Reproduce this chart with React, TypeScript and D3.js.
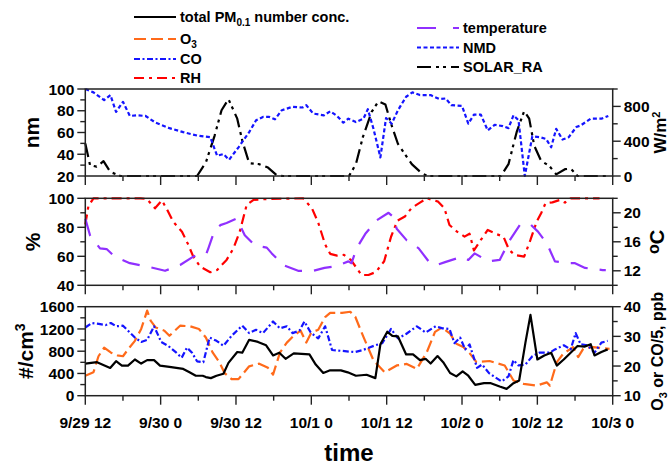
import React from "react";
import * as d3 from "d3";

// ---- data (hours since 9/29 12:00) ----
const xTickLabels = ["9/29 12", "9/30 0", "9/30 12", "10/1 0", "10/1 12", "10/2 0", "10/2 12", "10/3 0"];

const nmdT = [0,1.3,3,4,4.9,6,7.1,8.2,9.6,11.2,13.4,15.6,17.8,19.9,21,22,22.9,24.4,26.1,27.2,28.3,29.3,30.2,31.3,33,34.6,35.2,36.3,38,39,40.1,41.1,41.9,43.1,44.3,45,45.9,47,47.9,48.8,49.8,51.1,52.1,53.3,55,56.4,57.4,58.3,60,61,61.9,63,64.1,65.2,66.5,67.4,68.2,69,70,71.2,72.4,73.4,74.2,75,76,77,78.2,78.9,80.5,82.2,83.3];
const nmdV = [100,96.9,89.8,94.4,78.9,88.2,75.2,75.8,75.2,69,64,60.3,57.2,55.7,38.6,40.2,34.9,46.4,60.3,71.2,74.3,74.3,72.1,80.5,83.6,83,85.1,77.4,75.8,79.5,75.2,69,72.7,69.6,72.7,81.4,63.4,37.1,73.3,68.1,80.5,92.9,96.9,94.4,94.4,90.7,91.3,85.1,84.5,68.1,76.4,76.4,61.9,67.1,65.9,64,75.8,71.2,20,56.6,55.7,54.1,46.4,63.4,53.5,55.7,65,66.5,72.7,72.7,75.2];

const solarT = [0,0.75,1.8,2.9,4,5.6,17.8,19.2,20.6,21.7,22.8,24.2,25,26.1,27.7,29.1,30.5,31.5,42,43.1,44.2,45.6,46.7,47.8,48.7,49.8,50.9,52,53.6,54.5,66.2,67.4,68.7,69.9,70.7,71.5,72.6,73.9,75,76.4,77.3,78.4,83.3];
const solarV = [375,126,107,170,46,0,0,155,465,756,884,659,407,147,136,97,8,0,0,136,446,736,858,822,601,368,252,136,31,0,0,136,504,746,659,349,174,116,19,78,85,0,0];

const rhT = [0,0.5,1.3,8.8,9.8,11.1,12.2,13.2,14,15.4,16.4,17.2,18.3,19.9,21,22.5,23.6,24.6,25.7,26.8,28.9,34.7,36.1,37.1,38.2,39,40.1,41.2,42.3,44,45.1,46.3,47.6,48.7,49.7,50.9,52,53.3,54.4,56.2,57.2,58,59.2,60.4,61.2,61.9,63,64.1,65.6,66.6,67.5,68.4,69.9,70.9,71.9,72.6,73.3,74.4,75.6,76.4,77.3,81.9];
const rhV = [82,94.7,100,100,99.5,93.1,98.6,90.8,83.9,77,68,59.8,52.9,49,50.6,57.5,65.5,77,95.4,98.9,99.5,100,93.1,83.2,68.2,61.7,60.5,61,57.5,47.1,47.1,49.2,56.6,73.5,84.5,87.4,93.5,97,100,97.7,93.1,81.6,77,73.6,75.6,64,71.3,78.2,75.1,73.6,64.4,60.9,59.8,71.3,84,89.7,96.6,97.2,98.9,97,100,100];

const tempT = [0,0.75,2.34,3.4,4.7,7.1,9.8,12.7,15.1,17.2,18.3,19.3,19.6,20.4,21.5,22.5,24.1,25.4,27,28.9,29.7,31.5,33.9,36.3,38.1,39.8,41.9,42.4,43.2,44.6,46.4,48.3,49.1,49.6,51.2,53.1,54.9,56,57.3,60,61,62,64.2,66,67.6,69.2,70.8,72.1,73.5,74.8,77.2,78,79.6,82.4,82.9];
const tempV = [19.2,16.9,15.1,15.0,13.95,13.05,12.6,12.0,12.8,13.95,14.4,14.4,15.1,17.1,18.3,18.6,19.2,16.9,15.5,15.2,14.4,12.8,12.0,12.0,12.4,12.6,13.3,13.05,15.1,17.1,18.95,20.0,19.4,17.8,16.2,15.1,13.05,12.8,13.2,13.95,13.5,14.4,13.3,13.5,16.2,18.3,18.5,17.4,15.8,13.3,13.05,13.05,12.4,12.1,12.1];

const pmT = [0,1.87,3.96,4.9,5.83,6.8,7.9,8.9,9.85,10.95,11.9,13.4,15.6,16.6,17.6,18.7,19.2,20,20.9,22,22.8,24.2,25,26.1,27.5,28.8,29.9,30.9,31.9,33.2,35.7,36.7,37.9,39,40.7,41.8,43.1,44.8,46.2,47,48.1,48.9,49.8,51.1,52.2,53.3,54.2,55,56.1,57,58.1,59.1,60.1,61,62.1,63.5,64.6,66,67.1,68.2,69.1,70.1,70.9,72,73.1,74.2,75.1,76.2,77.3,78.4,79.5,80.5,81.1,82.2,83.2];
const pmV = [578,602,499,620,541,541,651,578,639,639,541,517,481,420,359,359,335,316,359,395,590,785,773,1004,967,906,724,773,663,760,742,560,408,456,456,420,359,377,316,925,1150,1077,1065,742,742,639,663,578,712,602,408,347,438,359,195,225,225,164,122,225,274,955,1454,651,724,773,541,651,773,894,882,925,724,785,833];

const o3T = [0,1.3,2.1,3,4.1,5.1,6,6.8,7.9,8.9,9.85,10.4,11.2,12.6,13.4,15.1,16.7,18.1,19.2,20.3,21.4,22.2,23.3,24.4,26.1,27.7,29.1,29.9,31,32.1,33.2,34.3,35.2,36,37.1,38.2,39,40.9,42.2,43,44.3,45.9,47.7,49.6,51.2,52.8,54.4,55.7,56.8,58.1,59.1,60.2,61.3,62.3,64.4,66.8,68.2,69.8,71.9,73.5,74,75.1,76.1,77.7,78.5,79.3,80.9,83.5];
const o3V = [16.7,17.9,23.3,26.2,24.5,23.6,23.3,25.6,28.5,32.5,38.7,35.3,33,31.9,30.2,33.6,33.4,32.5,29.6,24.5,21.1,17.6,15.6,15.6,19.9,20.8,19.4,17.1,24.5,27.9,30.2,31.9,27.9,31.3,32.2,36.5,37.9,37.9,38.3,36.6,29.8,21.9,17.9,20.2,20.7,19,24.7,31.5,33,30.9,27.5,26.4,24.1,21.3,21.7,20.2,15.1,14,13.4,14.5,13.4,21.3,24.1,26.4,23,25.8,26.4,25.8];

const coT = [0,1.05,2.15,3.25,4.07,4.9,6,6.8,7.9,8.9,9.85,10.95,12.1,13.2,14.5,15.35,16.2,17,17.8,18.8,19.8,20.9,22,23.3,25,26.1,27.2,28.3,29.9,31,32.1,33,34.1,34.9,35.9,37.1,38.2,39.3,40.9,42.9,44.2,46.2,47.3,48.7,49.8,51.1,52.8,54.2,55.8,56.9,58,58.8,59.7,60.5,61.2,62.4,63.2,64.3,66.3,67.4,68.2,69,70.1,71.2,72.3,74,74.8,76.2,77.3,78.1,78.9,80,81.1,82.2,83.2];
const coDiv5V = [33,34.5,34.2,33.8,34.5,33.4,33.6,31.9,29.6,28.1,28.8,33.4,28.1,26.8,24.5,22.8,26.2,24.5,21.6,21.3,29.6,28.5,26.8,30.2,33.6,31.1,32.2,31.1,35,32.7,33.4,31.1,31.9,35,31.3,29.3,33.4,25.4,25.1,24.7,25.4,27,27.7,32.5,29.3,30.8,33.4,31.3,33.4,32.7,32.5,27.7,29.6,25.6,27.3,19.4,20.5,17.6,14.8,16.5,22,20.2,20.5,23.3,24.5,24.5,25.6,27,25.6,31.1,27.3,27,24.5,27.9,28.5];

// ---- styles ----
const C = {
  pm: "#000000",
  o3: "#FF6A1A",
  co: "#1414FF",
  rh: "#FF0000",
  temp: "#9030FF",
  nmd: "#1414FF",
  solar: "#000000",
};
const DASH = {
  pm: "",
  o3: "12,5",
  co: "6,2.5,2,2.5",
  rh: "10,5,3,5",
  temp: "18,12",
  nmd: "4,2.5",
  solar: "14,5,3,4,3,5",
};
const FONT = "'Liberation Sans', Arial, sans-serif";

const W = 670, H = 465;
const L = 85.3, R = 612.7;
const panels = [
  { top: 89, bottom: 176 },
  { top: 198.3, bottom: 285.3 },
  { top: 306.7, bottom: 395.7 },
];

const x = d3.scaleLinear().domain([0, 84]).range([L, R]);

type AxisSpec = {
  scale: d3.ScaleLinear<number, number>;
  ticks: number[];
  labels: number[];
};

function YAxis({ side, spec }: { side: "left" | "right"; spec: AxisSpec }) {
  const x0 = side === "left" ? L : R;
  const dir = side === "left" ? -1 : 1;
  return (
    <g>
      {spec.ticks.map((t) => {
        const major = spec.labels.includes(t);
        const y = spec.scale(t);
        return (
          <line key={t} x1={x0} x2={x0 + dir * (major ? 8 : 5)} y1={y} y2={y} stroke="#222" strokeWidth={1.4} />
        );
      })}
      {spec.labels.map((t) => (
        <text
          key={"l" + t}
          x={x0 + dir * 11}
          y={spec.scale(t)}
          dy="0.36em"
          textAnchor={side === "left" ? "end" : "start"}
          fontSize={15.5}
          fontWeight="bold"
          fontFamily={FONT}
        >
          {t}
        </text>
      ))}
    </g>
  );
}

function Series({ t, v, y, color, dash }: { t: number[]; v: number[]; y: d3.ScaleLinear<number, number>; color: string; dash: string }) {
  const pts = t.map((tt, i) => [tt, v[i]] as [number, number]);
  const path = d3.line<[number, number]>().x((d) => x(d[0])).y((d) => y(d[1]))(pts) || "";
  return <path d={path} fill="none" stroke={color} strokeWidth={2.2} strokeDasharray={dash || undefined} strokeLinejoin="round" />;
}

function LegendItem({ x0, y0, color, dash, children }: any) {
  return (
    <g>
      <line x1={x0} x2={x0 + 42} y1={y0} y2={y0} stroke={color} strokeWidth={2.2} strokeDasharray={dash || undefined} />
      <text x={x0 + 46} y={y0 + 5} fontSize={14.5} fontWeight="bold" fontFamily={FONT}>
        {children}
      </text>
    </g>
  );
}

export default function App() {
  const p0 = panels[0], p1 = panels[1], p2 = panels[2];
  const yNmd = d3.scaleLinear().domain([20, 100]).range([p0.bottom, p0.top]);
  const ySol = d3.scaleLinear().domain([0, 1000]).range([p0.bottom, p0.top]);
  const yRh = d3.scaleLinear().domain([40, 100]).range([p1.bottom, p1.top]);
  const yTemp = d3.scaleLinear().domain([10, 22]).range([p1.bottom, p1.top]);
  const yPm = d3.scaleLinear().domain([0, 1600]).range([p2.bottom, p2.top]);
  const yGas = d3.scaleLinear().domain([10, 40]).range([p2.bottom, p2.top]);

  const axes: { left: AxisSpec; right: AxisSpec }[] = [
    {
      left: { scale: yNmd, ticks: d3.range(20, 101, 10), labels: [20, 40, 60, 80, 100] },
      right: { scale: ySol, ticks: d3.range(0, 1001, 200), labels: [0, 400, 800] },
    },
    {
      left: { scale: yRh, ticks: d3.range(40, 101, 10), labels: [40, 60, 80, 100] },
      right: { scale: yTemp, ticks: d3.range(10, 23, 2), labels: [12, 16, 20] },
    },
    {
      left: { scale: yPm, ticks: d3.range(0, 1601, 200), labels: [0, 400, 800, 1200, 1600] },
      right: { scale: yGas, ticks: d3.range(10, 41, 5), labels: [10, 20, 30, 40] },
    },
  ];

  const xTicks = d3.range(0, 85, 6);

  return (
    <svg width={W} height={H} style={{ position: "absolute", left: 0, top: 0, background: "#fff" }}>
      {/* legend */}
      <LegendItem x0={134} y0={17} color={C.pm} dash={DASH.pm}>
        total PM<tspan fontSize={10} dy={4}>0.1</tspan><tspan dy={-4}> number conc.</tspan>
      </LegendItem>
      <LegendItem x0={134} y0={39} color={C.o3} dash={DASH.o3}>
        O<tspan fontSize={10} dy={4}>3</tspan>
      </LegendItem>
      <LegendItem x0={134} y0={59} color={C.co} dash={DASH.co}>CO</LegendItem>
      <LegendItem x0={134} y0={78} color={C.rh} dash={DASH.rh}>RH</LegendItem>
      <LegendItem x0={417} y0={28} color={C.temp} dash={"19,17"}>temperature</LegendItem>
      <LegendItem x0={417} y0={47.5} color={C.nmd} dash={DASH.nmd}>NMD</LegendItem>
      <LegendItem x0={417} y0={67} color={C.solar} dash={DASH.solar}>SOLAR_RA</LegendItem>

      {/* series */}
      <Series t={solarT} v={solarV} y={ySol} color={C.solar} dash={DASH.solar} />
      <Series t={nmdT} v={nmdV} y={yNmd} color={C.nmd} dash={DASH.nmd} />
      <Series t={rhT} v={rhV} y={yRh} color={C.rh} dash={DASH.rh} />
      <Series t={tempT} v={tempV} y={yTemp} color={C.temp} dash={DASH.temp} />
      <Series t={o3T} v={o3V} y={yGas} color={C.o3} dash={DASH.o3} />
      <Series t={coT} v={coDiv5V} y={yGas} color={C.co} dash={DASH.co} />
      <Series t={pmT} v={pmV} y={yPm} color={C.pm} dash={DASH.pm} />

      {/* frames and axes */}
      {panels.map((p, i) => (
        <g key={i}>
          <rect x={L} y={p.top} width={R - L} height={p.bottom - p.top} fill="none" stroke="#222" strokeWidth={1.5} />
          {xTicks.map((t) => (
            <line key={t} x1={x(t)} x2={x(t)} y1={p.bottom} y2={p.bottom + (t % 12 === 0 ? 9 : 5)} stroke="#222" strokeWidth={1.4} />
          ))}
          <YAxis side="left" spec={axes[i].left} />
          <YAxis side="right" spec={axes[i].right} />
        </g>
      ))}

      {/* x tick labels */}
      {xTickLabels.map((lab, i) => (
        <text key={lab} x={x(i * 12)} y={428} textAnchor="middle" fontSize={15.5} fontWeight="bold" fontFamily={FONT}>
          {lab}
        </text>
      ))}
      <text x={(L + R) / 2} y={461} textAnchor="middle" fontSize={24} fontWeight="bold" fontFamily={FONT}>time</text>

      {/* left titles */}
      <text transform={`translate(39,${(p0.top + p0.bottom) / 2}) rotate(-90)`} textAnchor="middle" fontSize={21} fontWeight="bold" fontFamily={FONT}>nm</text>
      <text transform={`translate(40,${(p1.top + p1.bottom) / 2}) rotate(-90)`} textAnchor="middle" fontSize={21} fontWeight="bold" fontFamily={FONT}>%</text>
      <text transform={`translate(33,${(p2.top + p2.bottom) / 2}) rotate(-90)`} textAnchor="middle" fontSize={21} fontWeight="bold" fontFamily={FONT}>
        #/cm<tspan fontSize={14} dy={-8}>3</tspan>
      </text>

      {/* right titles */}
      <text transform={`translate(666,${(p0.top + p0.bottom) / 2}) rotate(-90)`} textAnchor="middle" fontSize={17} fontWeight="bold" fontFamily={FONT}>
        W/m<tspan fontSize={11} dy={-6}>2</tspan>
      </text>
      <text transform={`translate(664,${(p1.top + p1.bottom) / 2}) rotate(-90)`} textAnchor="middle" fontSize={20} fontWeight="bold" fontFamily={FONT}>
        <tspan fontSize={16} dy={-5}>o</tspan><tspan dy={5}>C</tspan>
      </text>
      <text transform={`translate(663,${(p2.top + p2.bottom) / 2}) rotate(-90)`} textAnchor="middle" fontSize={16} fontWeight="bold" fontFamily={FONT}>
        O<tspan fontSize={11} dy={4}>3</tspan><tspan dy={-4}> or CO/5, ppb</tspan>
      </text>
    </svg>
  );
}
